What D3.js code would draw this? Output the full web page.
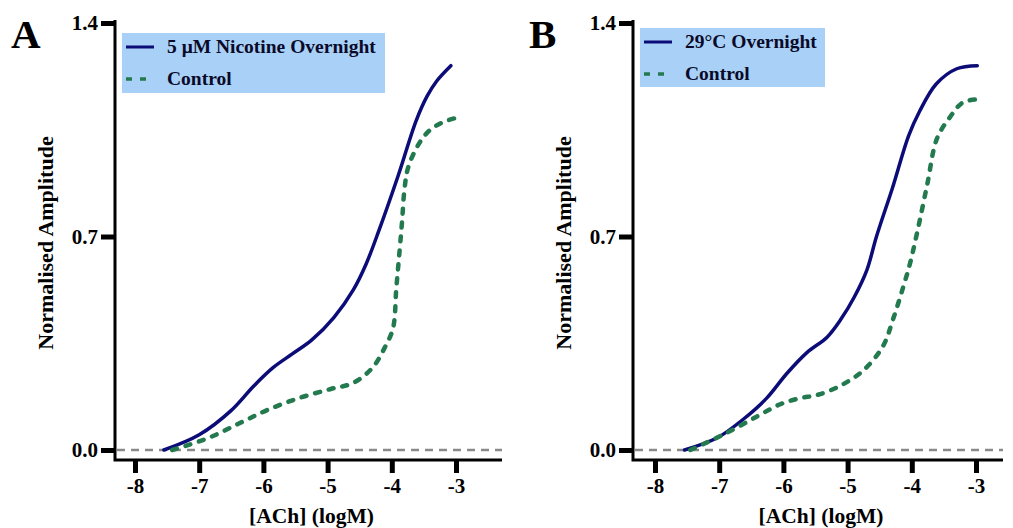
<!DOCTYPE html>
<html>
<head>
<meta charset="utf-8">
<script src="https://cdn.jsdelivr.net/npm/d3@7"></script>
<style>
  html, body { margin: 0; padding: 0; background: #fff; }
  svg { display: block; font-family: "Liberation Serif", "Times New Roman", serif; font-weight: bold; }
</style>
</head>
<body>
<svg id="chart" width="1013" height="528"></svg>
<script>
// Concentration-response curves, log[ACh] (M) vs normalised amplitude
const xTicks = [-8, -7, -6, -5, -4, -3];
const yTicks = [0, 0.7, 1.4];

// Panel A: 5 µM nicotine overnight vs control
const nicA_x = [-7.55, -7.0, -6.5, -6.15, -5.85, -5.55, -5.25, -4.9, -4.6, -4.4, -4.2, -3.9, -3.62, -3.45, -3.3, -3.08];
const nicA_y = [0.0, 0.05, 0.13, 0.21, 0.27, 0.315, 0.36, 0.435, 0.525, 0.61, 0.72, 0.90, 1.08, 1.16, 1.21, 1.26];
const ctlA_x = [-7.42, -6.85, -6.35, -5.95, -5.45, -4.95, -4.6, -4.3, -4.1, -3.98, -3.93, -3.88, -3.84, -3.8, -3.74, -3.56, -3.4, -3.2, -2.98];
const ctlA_y = [0.0, 0.04, 0.09, 0.13, 0.17, 0.20, 0.22, 0.27, 0.34, 0.40, 0.53, 0.65, 0.75, 0.86, 0.93, 1.01, 1.05, 1.075, 1.09];

// Panel B: 29 °C overnight vs control
const warmB_x = [-7.54, -7.03, -6.63, -6.26, -5.95, -5.63, -5.32, -5.1, -4.9, -4.7, -4.55, -4.3, -4.05, -3.88, -3.62, -3.3, -2.98];
const warmB_y = [0.0, 0.04, 0.10, 0.17, 0.25, 0.32, 0.37, 0.43, 0.50, 0.59, 0.70, 0.86, 1.03, 1.11, 1.20, 1.25, 1.26];
const ctlB_x = [-7.45, -6.94, -6.41, -6.05, -5.74, -5.48, -5.12, -4.76, -4.45, -4.29, -4.14, -4.03, -3.92, -3.76, -3.61, -3.41, -3.2, -2.94];
const ctlB_y = [0.0, 0.05, 0.11, 0.15, 0.17, 0.18, 0.21, 0.26, 0.34, 0.43, 0.53, 0.61, 0.71, 0.87, 1.02, 1.09, 1.14, 1.15];

const panels = [
  { letter: "A", left: 115, right: 502, x0: 135, x1: 456,
    legend: { x: 122, y: 33, w: 263, h: 60 },
    series: [
      { name: "5 \u03bcM Nicotine Overnight", xs: nicA_x, ys: nicA_y, kind: "solid" },
      { name: "Control", xs: ctlA_x, ys: ctlA_y, kind: "dash" }
    ] },
  { letter: "B", left: 633, right: 1003, x0: 655, x1: 976,
    legend: { x: 640, y: 28, w: 185, h: 59 },
    series: [
      { name: "29\u00b0C Overnight", xs: warmB_x, ys: warmB_y, kind: "solid" },
      { name: "Control", xs: ctlB_x, ys: ctlB_y, kind: "dash" }
    ] }
];

const navy = "#0c0c78";
const green = "#227a4e";
const svg = d3.select("#chart");
const yScale = d3.scaleLinear().domain([0, 1.4]).range([450, 23]);
const axisY = 460;

panels.forEach(p => {
  const g = svg.append("g");
  const x = d3.scaleLinear().domain([-8, -3]).range([p.x0, p.x1]);

  // zero reference line
  g.append("line")
    .attr("x1", p.left + 2).attr("x2", p.right)
    .attr("y1", yScale(0)).attr("y2", yScale(0))
    .attr("stroke", "#8a8a8a").attr("stroke-width", 2.5)
    .attr("stroke-dasharray", "8,6");

  // y axis
  const yAxis = g.append("g")
    .attr("transform", `translate(${p.left},0)`)
    .call(d3.axisLeft(yScale).tickValues(yTicks).tickFormat(d3.format(".1f")).tickSize(14).tickPadding(3));
  yAxis.select(".domain").remove();
  yAxis.selectAll(".tick line").attr("stroke", "#000").attr("stroke-width", 5);
  yAxis.selectAll(".tick text").attr("fill", "#000")
    .style("font-size", "21px").style("font-family", "Liberation Serif").style("font-weight", "bold");

  // x axis
  const xAxis = g.append("g")
    .attr("transform", `translate(0,${axisY})`)
    .call(d3.axisBottom(x).tickValues(xTicks).tickFormat(d3.format("d")).tickSize(13).tickPadding(5));
  xAxis.select(".domain").remove();
  xAxis.selectAll(".tick line").attr("stroke", "#000").attr("stroke-width", 5);
  xAxis.selectAll(".tick text").attr("fill", "#000")
    .style("font-size", "21px").style("font-family", "Liberation Serif").style("font-weight", "bold")
    .text(d => d3.format("d")(d).replace("\u2212", "-"));

  // L-shaped frame
  g.append("path")
    .attr("d", `M${p.left},20 V${axisY} H${p.right}`)
    .attr("fill", "none").attr("stroke", "#000").attr("stroke-width", 3);

  // axis titles
  g.append("text")
    .attr("x", (p.left + p.right) / 2 + 3).attr("y", 523)
    .attr("text-anchor", "middle").style("font-size", "21.5px")
    .text("[ACh] (logM)");
  g.append("text")
    .attr("transform", `translate(${p.left - 62},243) rotate(-90)`)
    .attr("text-anchor", "middle").style("font-size", "22px")
    .text("Normalised Amplitude");

  // panel letter
  g.append("text")
    .attr("x", p.left - 104).attr("y", 48)
    .style("font-size", "41px")
    .text(p.letter);

  // curves
  const line = d3.line()
    .x(d => x(d[0])).y(d => yScale(d[1]))
    .curve(d3.curveCatmullRom.alpha(0.5));
  p.series.forEach(s => {
    const pts = s.xs.map((v, i) => [v, s.ys[i]]);
    const path = g.append("path")
      .datum(pts)
      .attr("d", line)
      .attr("fill", "none")
      .attr("stroke-linecap", "round");
    if (s.kind === "solid") {
      path.attr("stroke", navy).attr("stroke-width", 3.5);
    } else {
      path.attr("stroke", green).attr("stroke-width", 4.5).attr("stroke-dasharray", "5,9");
    }
  });

  // legend
  const L = p.legend;
  const lg = g.append("g");
  lg.append("rect")
    .attr("x", L.x).attr("y", L.y).attr("width", L.w).attr("height", L.h)
    .attr("fill", "#a9d1f8");
  p.series.forEach((s, i) => {
    const cy = L.y + 14 + i * 32;
    const sample = lg.append("line")
      .attr("x1", L.x + 4).attr("x2", L.x + 32)
      .attr("y1", cy).attr("y2", cy);
    if (s.kind === "solid") {
      sample.attr("stroke", navy).attr("stroke-width", 3);
    } else {
      sample.attr("stroke", green).attr("stroke-width", 3.5).attr("stroke-dasharray", "6,8");
    }
    lg.append("text")
      .attr("x", L.x + 45).attr("y", cy + 6)
      .style("font-size", "19.5px").attr("fill", "#0a0a28")
      .text(s.name);
  });
});
</script>
</body>
</html>
